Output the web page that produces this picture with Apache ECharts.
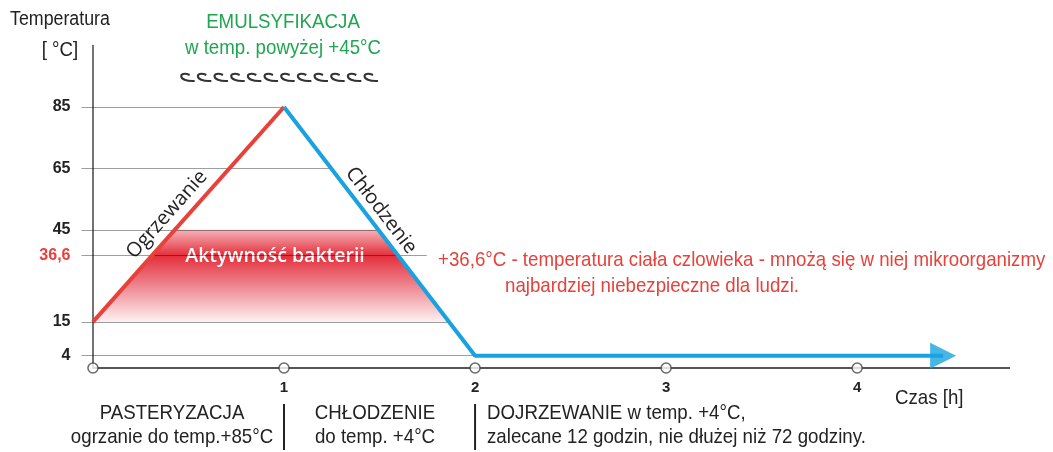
<!DOCTYPE html>
<html>
<head>
<meta charset="utf-8">
<script src="https://cdn.jsdelivr.net/npm/echarts@6/dist/echarts.min.js"></script>
<style>
  html, body { margin: 0; background: #fff; }
  #chart { width: 1053px; height: 452px; }
</style>
</head>
<body>
<div id="chart"></div>
<script>
// process curve: [time h, temperature °C]
const heating = [[0, 15], [1, 85]];
const cooling = [[1, 85], [2, 4], [4.45, 4]];
const tempTicks = [4, 15, 36.6, 45, 65, 85];
const timeTicks = [1, 2, 3, 4];
const timeMarks = [0, 1, 2, 3, 4];
const bacteriaRange = [15, 45];
const bodyTemp = 36.6;
const timeMax = 4.8;

const NARROW = '"Liberation Sans", Arial, sans-serif';
const HUMAN = '"Open Sans", "Noto Sans", sans-serif';
const RED = '#e8403a';
const BLUE = '#19a2e0';
const GREEN = '#1ea650';
const INK = '#222';
const SQUEEZE = 0.89; // reference uses a condensed face

// x where a polyline crosses temperature t
function xAtTemp(line, t) {
  for (let i = 0; i < line.length - 1; i++) {
    const [x0, y0] = line[i];
    const [x1, y1] = line[i + 1];
    if (y0 !== y1 && (t - y0) * (t - y1) <= 0) {
      return x0 + (t - y0) / (y1 - y0) * (x1 - x0);
    }
  }
  return line[0][0];
}

const gridLines = tempTicks.map((t) => [
  { coord: [-0.06, t] },
  { coord: [xAtTemp(cooling, t) + (t === bodyTemp ? 0.15 : 0), t] },
]);

const chart = echarts.init(document.getElementById('chart'));
chart.setOption({
  animation: false,
  grid: { left: 81.5, right: 43, top: 45.6, bottom: 84, outerBoundsMode: 'none' },
  xAxis: {
    type: 'value',
    min: -0.06,
    max: timeMax,
    axisLine: { show: false },
    axisTick: { show: false },
    splitLine: { show: false },
    axisLabel: {
      customValues: timeTicks,
      color: INK,
      fontWeight: 'bold',
      fontSize: 15,
      fontFamily: 'Arial',
      margin: 12,
    },
  },
  yAxis: {
    type: 'value',
    min: 0,
    max: 105,
    axisLine: { show: true, onZero: true, lineStyle: { color: '#444', width: 1.5 } },
    axisTick: { show: false },
    splitLine: { show: false },
    axisLabel: {
      customValues: tempTicks,
      margin: 11,
      color: INK,
      fontWeight: 'bold',
      fontSize: 16,
      fontFamily: 'Arial',
      formatter: (v) => (v === bodyTemp ? '{r|36,6}' : String(v)),
      rich: { r: { color: RED, fontWeight: 'bold', fontSize: 16, fontFamily: 'Arial' } },
    },
  },
  series: [
    {
      name: 'Aktywność bakterii',
      type: 'custom',
      z: 1,
      silent: true,
      data: [0],
      renderItem(params, api) {
        const [lo, hi] = bacteriaRange;
        const pts = [
          [xAtTemp(heating, lo), lo],
          [xAtTemp(heating, hi), hi],
          [xAtTemp(cooling, hi), hi],
          [xAtTemp(cooling, lo), lo],
        ].map((p) => api.coord(p));
        const peak = (hi - bodyTemp) / (hi - lo);
        const c = api.coord([(xAtTemp(heating, bodyTemp) + xAtTemp(cooling, bodyTemp)) / 2, bodyTemp]);
        return {
          type: 'group',
          children: [
            {
              type: 'polygon',
              shape: { points: pts },
              style: {
                fill: new echarts.graphic.LinearGradient(0, 0, 0, 1, [
                  { offset: 0, color: '#f4b3b9' },
                  { offset: peak, color: '#e42f3b' },
                  { offset: 0.62, color: '#ef8993' },
                  { offset: 1, color: '#fdf1f2' },
                ]),
              },
            },
            {
              type: 'text',
              x: c[0],
              y: c[1] + 1,
              style: {
                text: 'Aktywność bakterii',
                fill: '#fff',
                fontFamily: HUMAN,
                fontWeight: 600,
                fontSize: 19.5,
                align: 'center',
                verticalAlign: 'middle',
              },
            },
          ],
        };
      },
    },
    {
      name: 'axes',
      type: 'scatter',
      z: 5,
      silent: true,
      data: timeMarks.map((x) => [x, 0]),
      symbol: 'circle',
      symbolSize: 10,
      itemStyle: { color: '#fff', borderColor: '#444', borderWidth: 1.5 },
      markLine: {
        silent: true,
        symbol: 'none',
        z: 2,
        label: { show: false },
        data: [
          ...gridLines.map((seg) => [
            { ...seg[0], lineStyle: { color: 'rgba(0,0,0,0.38)', width: 1, type: 'solid' } },
            seg[1],
          ]),
          [
            { coord: [0, 0], lineStyle: { color: '#555', width: 2, type: 'solid' } },
            { coord: [timeMax, 0] },
          ],
        ],
      },
    },
    {
      name: 'Ogrzewanie',
      type: 'line',
      z: 3,
      data: heating,
      symbol: 'none',
      lineStyle: { color: RED, width: 4 },
    },
    {
      name: 'Chłodzenie',
      type: 'line',
      z: 3,
      data: cooling,
      symbol: 'none',
      lineStyle: { color: BLUE, width: 4 },
    },
    {
      name: 'arrow',
      type: 'scatter',
      z: 4,
      data: [cooling[cooling.length - 1]],
      symbol: 'triangle',
      symbolRotate: -90,
      symbolSize: [26, 26],
      itemStyle: { color: BLUE },
    },
  ],
});

const px = (p) => chart.convertToPixel({ gridIndex: 0 }, p);

// text laid along a segment, shifted to its left side
function alongText(p0, p1, f, offset, text) {
  const a = px(p0);
  const b = px(p1);
  const len = Math.hypot(b[0] - a[0], b[1] - a[1]);
  const d = [(b[0] - a[0]) / len, (b[1] - a[1]) / len];
  const n = [d[1], -d[0]];
  return {
    type: 'text',
    x: a[0] + d[0] * len * f + n[0] * offset,
    y: a[1] + d[1] * len * f + n[1] * offset,
    rotation: Math.atan2(a[1] - b[1], b[0] - a[0]),
    style: {
      text,
      fill: INK,
      fontFamily: HUMAN,
      fontSize: 20,
      align: 'center',
      verticalAlign: 'middle',
    },
  };
}

function label(x, y, text, opts) {
  return {
    type: 'text',
    x,
    y,
    scaleX: SQUEEZE,
    style: Object.assign({
      text,
      fill: INK,
      fontFamily: NARROW,
      fontSize: 21,
      align: 'left',
      verticalAlign: 'middle',
    }, opts),
  };
}

const bodyY = px([0, bodyTemp])[1];
const sepX = [px([1, 0])[0], px([2, 0])[0]];

// decorative wave row under the emulsification note: little "c" curls joined at the bottom
const waveW = 200 / 12;
const waves = [];
for (let i = 0; i < 12; i++) {
  const x = 178 + i * waveW;
  const y = 81;
  waves.push({
    type: 'bezierCurve',
    shape: {
      x1: x + waveW, y1: y,
      cpx1: x - waveW * 0.1, cpy1: y + 1,
      cpx2: x + waveW * 0.05, cpy2: y - 11,
      x2: x + waveW * 0.7, y2: y - 6,
    },
    style: { fill: null, stroke: '#333', lineWidth: 2 },
  });
}

chart.setOption({
  graphic: [
    label(10, 19, 'Temperatura', { fontSize: 20 }),
    label(60, 50, '[ °C]', { align: 'center' }),
    label(283, 22, 'EMULSYFIKACJA', { fill: GREEN, align: 'center' }),
    label(283, 48, 'w temp. powyżej +45°C', { fill: GREEN, align: 'center' }),
    ...waves,
    alongText(heating[0], heating[1], 0.45, 16, 'Ogrzewanie'),
    alongText(cooling[0], cooling[1], 0.45, 14, 'Chłodzenie'),
    label(438, bodyY + 5, '+36,6°C - temperatura ciała czlowieka - mnożą się w niej mikroorganizmy', { fill: RED }),
    label(505, bodyY + 31, 'najbardziej niebezpieczne dla ludzi.', { fill: RED }),
    label(895, 398, 'Czas [h]'),
    label(172, 413, 'PASTERYZACJA', { align: 'center' }),
    label(172, 437, 'ogrzanie do temp.+85°C', { align: 'center' }),
    label(375, 413, 'CHŁODZENIE', { align: 'center' }),
    label(375, 437, 'do temp. +4°C', { align: 'center' }),
    label(487, 413, 'DOJRZEWANIE w temp. +4°C,'),
    label(487, 437, 'zalecane 12 godzin, nie dłużej niż 72 godziny.'),
    ...sepX.map((x) => ({
      type: 'line',
      shape: { x1: x, y1: 404, x2: x, y2: 450 },
      style: { stroke: INK, lineWidth: 2 },
    })),
  ],
});
</script>
</body>
</html>
